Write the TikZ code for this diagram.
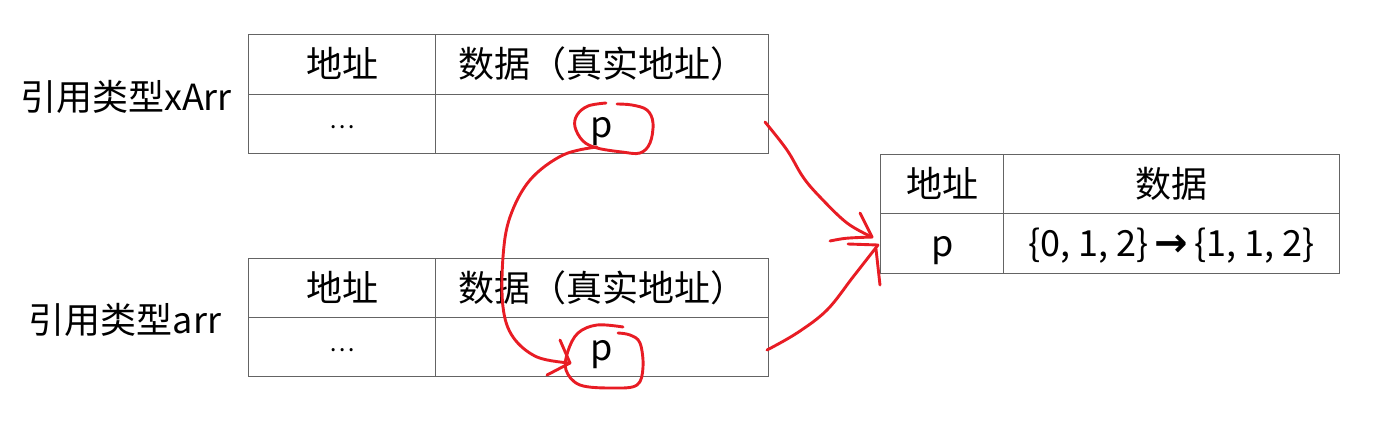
\documentclass[tikz,border=0pt]{standalone}
\usepackage{fontspec}
\setmainfont{Noto Sans CJK SC}
\newfontfamily\symfont{DejaVu Sans}
\definecolor{gridgray}{RGB}{100,100,100}
\definecolor{inkred}{RGB}{232,28,36}
\tikzset{
  cell/.style={draw=gridgray, line width=1.3pt, anchor=north west, inner sep=0pt,
    text height=30pt, text depth=4pt,
    font=\fontsize{36}{40}\selectfont, text=black},
  lbl/.style={inner sep=0pt, font=\fontsize{36}{40}\selectfont, text=black},
  ink/.style={draw=inkred, line width=2.9pt, line cap=round, line join=round},
}
\newcommand{\dotsq}{\raisebox{9pt}{\fontsize{24}{30}\selectfont …}}
\begin{document}
\begin{tikzpicture}[x=1pt,y=-1pt]
\useasboundingbox (0,0) rectangle (1382,432);
% table xArr
\node[cell, minimum width=187pt, minimum height=60pt] (t1a) at (248,34) {地址};
\node[cell, minimum width=333pt, minimum height=60pt] (t1b) at (435,34) {数据（真实地址）};
\node[cell, minimum width=187pt, minimum height=59pt] (t1c) at (248,94) {\dotsq};
\node[cell, minimum width=333pt, minimum height=59pt] (t1d) at (435,94) {p};
% table arr
\node[cell, minimum width=187pt, minimum height=59pt] (t2a) at (248,258) {地址};
\node[cell, minimum width=333pt, minimum height=59pt] (t2b) at (435,258) {数据（真实地址）};
\node[cell, minimum width=187pt, minimum height=59pt] (t2c) at (248,317) {\dotsq};
\node[cell, minimum width=333pt, minimum height=59pt] (t2d) at (435,317) {p};
% heap table
\node[cell, minimum width=123pt, minimum height=59pt] (t3a) at (880,154) {地址};
\node[cell, minimum width=336pt, minimum height=59pt] (t3b) at (1003,154) {数据};
\node[cell, minimum width=123pt, minimum height=60pt] (t3c) at (880,213) {p};
\node[cell, minimum width=336pt, minimum height=60pt] (t3d) at (1003,213) {\{0, 1, 2\}\,{\symfont\bfseries\fontsize{40}{40}\selectfont →}\,\{1, 1, 2\}};
% labels
\node[lbl] (lx) at (126,97) {引用类型xArr};
\node[lbl] (la) at (125,320) {引用类型arr};
% named points
\coordinate (topP) at (597,147);
\coordinate (botP) at (570,363);
\coordinate (heapA) at (872,237);
\coordinate (heapB) at (878,245);
% circle around top p
\draw[ink] plot[smooth, tension=0.6] coordinates {(606,103) (588,106) (577,115) (575,127) (583,141) (597,148) (622,152) (640,153) (650,143) (653,123) (647,110) (632,105) (617,104)};
% circle around bottom p
\draw[ink] plot[smooth, tension=0.6] coordinates {(623,327) (597,325) (578,333) (568,351) (566,370) (580,385) (613,388) (637,385) (643,367) (640,343) (630,335) (618,333)};
% top p -> bottom p
\draw[ink] plot[smooth, tension=0.6] coordinates {(topP) (563,155) (530,180) (510,217) (503,257) (503,307) (513,337) (537,357) (botP)};
\draw[ink] (560,340) -- (botP) -- (547,375);
% top row -> heap
\draw[ink] plot[smooth, tension=0.6] coordinates {(765,122) (787,150) (803,177) (820,197) (847,223) (heapA)};
\draw[ink] (860,213) -- (heapA);
\draw[ink] (830,241) .. controls (845,238) .. (heapA);
\draw[ink] (848,244) -- (heapB);
% bottom row -> heap
\draw[ink] plot[smooth, tension=0.6] coordinates {(767,350) (797,333) (827,310) (853,277) (heapB)};
\draw[ink] (876,249) -- (880,285);
\end{tikzpicture}
\end{document}
